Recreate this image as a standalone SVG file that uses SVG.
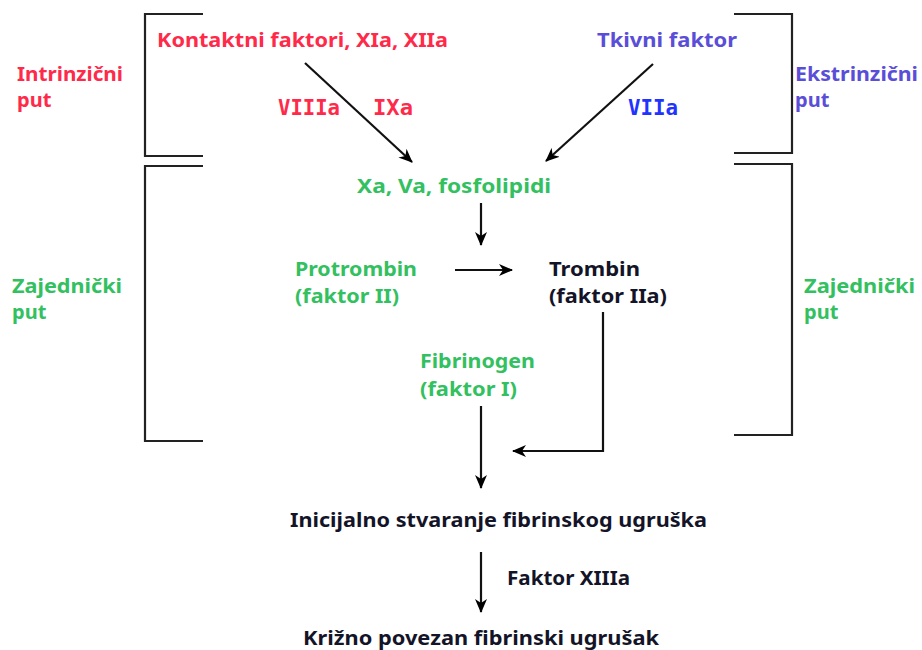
<svg xmlns="http://www.w3.org/2000/svg" width="922" height="650" viewBox="0 0 922 650">
<defs>
<marker id="ah" viewBox="0 0 14 12" refX="13" refY="6" markerWidth="14" markerHeight="12" markerUnits="userSpaceOnUse" orient="auto">
<path d="M0,0 L14,6 L0,12 L4,6 z" fill="#000"/>
</marker>
<style>
text{font-family:"Noto Sans","Open Sans",sans-serif;font-weight:bold;font-size:20px}
.v{font-family:"DejaVu Sans Mono",monospace;font-size:20.5px}
.r{fill:#ff2a4a}
.p{fill:#5a4ed8}
.b{fill:#2233ff}
.g{fill:#33c060}
.k{fill:#141428}
.br{fill:none;stroke:#222;stroke-width:2.2}
.c{fill:none;stroke:#111;stroke-width:2.2}
</style>
</defs>
<rect width="922" height="650" fill="#fff"/>
<g id="brackets">
<path class="br" d="M203,14 H145 V156 H203"/>
<path class="br" d="M203,166 H145 V441 H203"/>
<path class="br" d="M734,14 H792 V153 H734"/>
<path class="br" d="M734,164 H792 V435 H734"/>
</g>
<g id="labels">
<text class="r" x="17" y="81" textLength="106" lengthAdjust="spacingAndGlyphs">Intrinzični</text>
<text class="r" x="17" y="107">put</text>
<text class="p" x="795" y="81" textLength="123" lengthAdjust="spacingAndGlyphs">Ekstrinzični</text>
<text class="p" x="795" y="107">put</text>
<text class="g" x="12" y="293" textLength="110" lengthAdjust="spacingAndGlyphs">Zajednički</text>
<text class="g" x="12" y="319">put</text>
<text class="g" x="804" y="293" textLength="111" lengthAdjust="spacingAndGlyphs">Zajednički</text>
<text class="g" x="804" y="319">put</text>
</g>
<g id="n-contact"><text class="r" x="157" y="47" textLength="291" lengthAdjust="spacingAndGlyphs">Kontaktni faktori, XIa, XIIa</text></g>
<g id="n-tissue"><text class="p" x="597" y="47" textLength="140" lengthAdjust="spacingAndGlyphs">Tkivni faktor</text></g>
<g id="n-viiia"><text class="r v" x="278" y="115" textLength="62" lengthAdjust="spacingAndGlyphs">VIIIa</text></g>
<g id="n-ixa"><text class="r v" x="373" y="115" textLength="40" lengthAdjust="spacingAndGlyphs">IXa</text></g>
<g id="n-viia"><text class="b v" x="628" y="115" textLength="50" lengthAdjust="spacingAndGlyphs">VIIa</text></g>
<g id="n-xa"><text class="g" x="357" y="193" textLength="194" lengthAdjust="spacingAndGlyphs">Xa, Va, fosfolipidi</text></g>
<g id="n-protrombin"><text class="g" x="295" y="276" textLength="122" lengthAdjust="spacingAndGlyphs">Protrombin</text><text class="g" x="295" y="303" textLength="104" lengthAdjust="spacingAndGlyphs">(faktor II)</text></g>
<g id="n-trombin"><text class="k" x="549" y="276" textLength="91" lengthAdjust="spacingAndGlyphs">Trombin</text><text class="k" x="549" y="303" textLength="118" lengthAdjust="spacingAndGlyphs">(faktor IIa)</text></g>
<g id="n-fibrinogen"><text class="g" x="420" y="368" textLength="115" lengthAdjust="spacingAndGlyphs">Fibrinogen</text><text class="g" x="420" y="396" textLength="97" lengthAdjust="spacingAndGlyphs">(faktor I)</text></g>
<g id="n-initial"><text class="k" x="290" y="527" textLength="417" lengthAdjust="spacingAndGlyphs">Inicijalno stvaranje fibrinskog ugruška</text></g>
<g id="n-xiiia"><text class="k" x="507" y="585" textLength="123" lengthAdjust="spacingAndGlyphs">Faktor XIIIa</text></g>
<g id="n-cross"><text class="k" x="303" y="645" textLength="356" lengthAdjust="spacingAndGlyphs">Križno povezan fibrinski ugrušak</text></g>
<g id="connectors">
<path class="c" d="M305,63 L412,162" marker-end="url(#ah)"/>
<path class="c" d="M653,64 L546,161" marker-end="url(#ah)"/>
<path class="c" d="M481,203 V245" marker-end="url(#ah)"/>
<path class="c" d="M455,270 H512" marker-end="url(#ah)"/>
<path class="c" d="M603,312 V451 H513" marker-end="url(#ah)"/>
<path class="c" d="M481,406 V488" marker-end="url(#ah)"/>
<path class="c" d="M481,552 V612" marker-end="url(#ah)"/>
</g>
</svg>
